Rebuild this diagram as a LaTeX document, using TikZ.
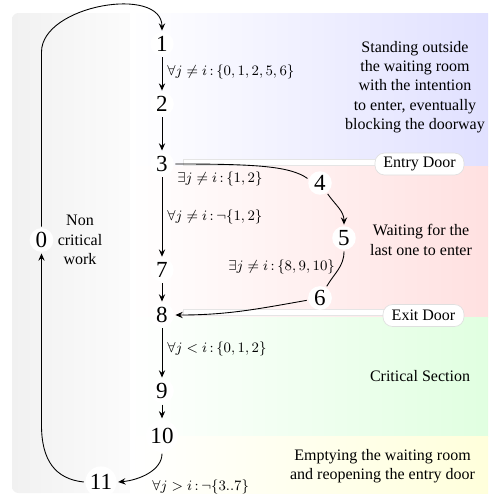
\documentclass[tikz,border=0pt]{standalone}
\usepackage[no-math]{fontspec}
\setmainfont{Liberation Serif}
\usetikzlibrary{arrows.meta}
\begin{document}
\begin{tikzpicture}[x=0.625pt,y=0.625pt,
  st/.style={circle,fill=white,inner sep=1pt,outer sep=1pt,font=\Large},
  edge/.style={line width=0.55pt},
  arr/.style={edge,-{Stealth[length=4.6pt,width=4pt,inset=1.7pt]}},
  lbl/.style={anchor=west,font=\small,inner sep=0pt},
  txt/.style={align=center,font=\normalsize},
  door/.style={draw=gray!25,fill=white,rounded corners=6pt,line width=0.4pt,minimum height=13.75pt,inner xsep=5pt,inner ysep=0pt},
  doorband/.style={fill=white,draw=gray!20,line width=0.4pt}
]
\useasboundingbox (0,0) rectangle (489,-495);
% panel and bands
\shade[left color=gray!11,right color=gray!2,rounded corners=4pt] (12,-13) rectangle (140,-493);
\shade[left color=white,right color=blue!12] (130,-13) rectangle (488,-166);
\shade[left color=white,right color=red!12] (130,-166) rectangle (488,-317);
\shade[left color=white,right color=green!12] (130,-317) rectangle (488,-436);
\shade[left color=white,right color=yellow!14] (130,-436) rectangle (488,-493);
% door bands
\filldraw[doorband] (183,-159.5) rectangle (380,-165.5);
\filldraw[doorband] (183,-309.5) rectangle (390,-315.5);
% region texts
\node[txt] (tblue) at (415,-87) {Standing outside\\the waiting room\\with the intention\\to enter, eventually\\blocking the doorway};
\node[txt] (tred) at (421,-240) {Waiting for the\\last one to enter};
\node[txt] (tgreen) at (420,-376) {Critical Section};
\node[txt] (tyellow) at (382.5,-466) {Emptying the waiting room\\and reopening the entry door};
\node[txt] (tgray) at (80,-240) {Non\\critical\\work};
% doors
\node[door,minimum width=55.6pt] (entry) at (419.5,-164) {Entry Door};
\node[door,minimum width=50.6pt] (exit) at (423.5,-315.5) {Exit Door};
% states
\node[st] (n1) at (162,-44) {1};
\node[st] (n2) at (162,-104) {2};
\node[st] (n3) at (162,-164) {3};
\node[st] (n4) at (320,-183) {4};
\node[st] (n5) at (344,-238) {5};
\node[st] (n6) at (320,-298) {6};
\node[st] (n7) at (162,-270) {7};
\node[st] (n8) at (162,-315) {8};
\node[st] (n9) at (162,-391) {9};
\node[st] (n10) at (162,-436) {10};
\node[st] (n11) at (101,-482) {11};
\node[st] (n0) at (41.5,-240) {0};
% edges
\draw[arr] (n0.north) -- (41.5,-52) .. controls (41.5,-5) and (162,15) .. (n1.north);
\draw[arr] (n1) -- (n2);
\draw[arr] (n2) -- (n3);
\draw[edge] (n3.east) .. controls (255,-164) and (290,-166) .. (n4.160);
\draw[arr] (n4) to[out=-55,in=90] (n5);
\draw[edge] (n5) to[out=-90,in=60] (n6);
\draw[arr] (n6) to[out=190,in=0] (n8);
\draw[arr] (n3) -- (n7);
\draw[arr] (n7) -- (n8);
\draw[arr] (n8) -- (n9);
\draw[arr] (n9) -- (n10);
\draw[arr] (n10.south) .. controls (162,-470) and (140,-480) .. (n11.east);
\draw[arr] (n11.west) .. controls (55,-479) and (41.5,-460) .. (41.5,-425) -- (n0.south);
% labels
\node[lbl] (l12) at (167,-72) {$\forall j\neq i\,{:}\,\{0,1,2,5,6\}$};
\node[lbl] (l34) at (177,-179) {$\exists j\neq i\,{:}\,\{1,2\}$};
\node[lbl] (l37) at (167,-217) {$\forall j\neq i\,{:}\,\neg\{1,2\}$};
\node[lbl] (l56) at (228,-267) {$\exists j\neq i\,{:}\,\{8,9,10\}$};
\node[lbl] (l89) at (167,-349) {$\forall j<i\,{:}\,\{0,1,2\}$};
\node[lbl] (l1011) at (152,-487) {$\forall j>i\,{:}\,\neg\{3..7\}$};
\end{tikzpicture}
\end{document}
